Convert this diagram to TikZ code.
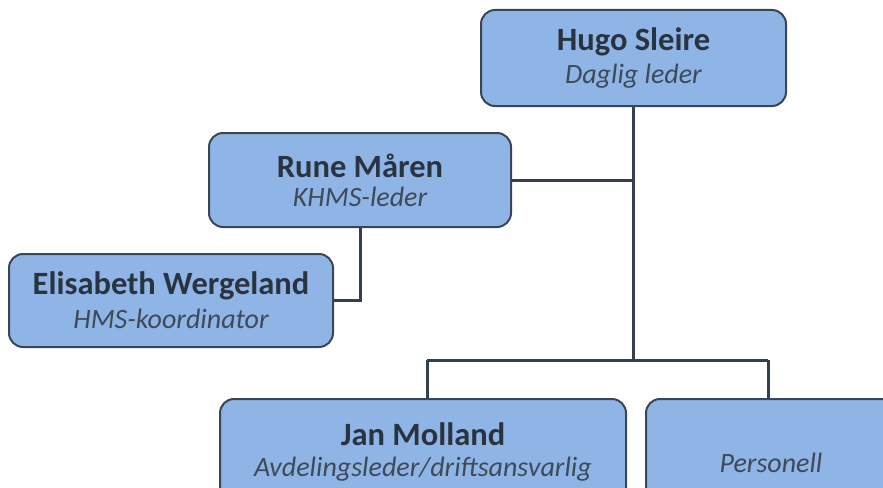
\documentclass[tikz,border=0pt]{standalone}
\usepackage{fontspec}
\setmainfont{Carlito}
\definecolor{boxfill}{HTML}{8FB4E6}
\definecolor{boxline}{HTML}{3A4655}
\definecolor{conn}{HTML}{34404E}
\definecolor{ttlcol}{HTML}{2A3440}
\definecolor{subcol}{HTML}{3E4A58}
\newcommand{\ttl}[1]{{\fontsize{32.5}{32}\selectfont\bfseries\color{ttlcol}#1}}
\newcommand{\sbt}[1]{{\fontsize{28}{28}\selectfont\itshape\color{subcol}#1}}
\tikzset{
  orgbox/.style={draw=boxline, fill=boxfill, line width=2pt, rounded corners=14pt, align=center, inner sep=0pt},
  link/.style={draw=conn, line width=3pt}
}
\begin{document}
\begin{tikzpicture}[x=1pt,y=-1pt]
\useasboundingbox (0,0) rectangle (883,487);
\node[orgbox, minimum width=305pt, minimum height=96pt] (hugo) at (633.5,58) {\ttl{Hugo Sleire}\\[7pt]\sbt{Daglig leder}};
\node[orgbox, minimum width=302pt, minimum height=94pt] (rune) at (360,180) {\ttl{Rune Måren}\\[8pt]\sbt{KHMS-leder}};
\node[orgbox, minimum width=324pt, minimum height=93pt] (elis) at (171,300.5) {\ttl{Elisabeth Wergeland}\\[8pt]\sbt{HMS-koordinator}};
\node[orgbox, minimum width=406pt, minimum height=106pt, anchor=north] (jan) at (423,398) {\ttl{Jan Molland}\\[10pt]\sbt{Avdelingsleder/driftsansvarlig}};
\node[orgbox, minimum width=250pt, minimum height=128pt, anchor=north west] (pers) at (645,398) {\sbt{Personell}};
\coordinate (hub) at (hugo.south |- rune.east);
\coordinate (split) at (633.5,360);
\coordinate (ebend) at (rune.south |- elis.east);
\draw[link] (hugo.south) -- (split);
\draw[link] (rune.east) -- (hub);
\draw[link] (rune.south) -- (ebend) -- (elis.east);
\coordinate (jl) at (427,360);
\coordinate (pl) at (768,360);
\draw[link] (jl) -- (pl);
\draw[link] (jl) -- (jl |- jan.north);
\draw[link] (pl) -- (pl |- pers.north);
\end{tikzpicture}
\end{document}
